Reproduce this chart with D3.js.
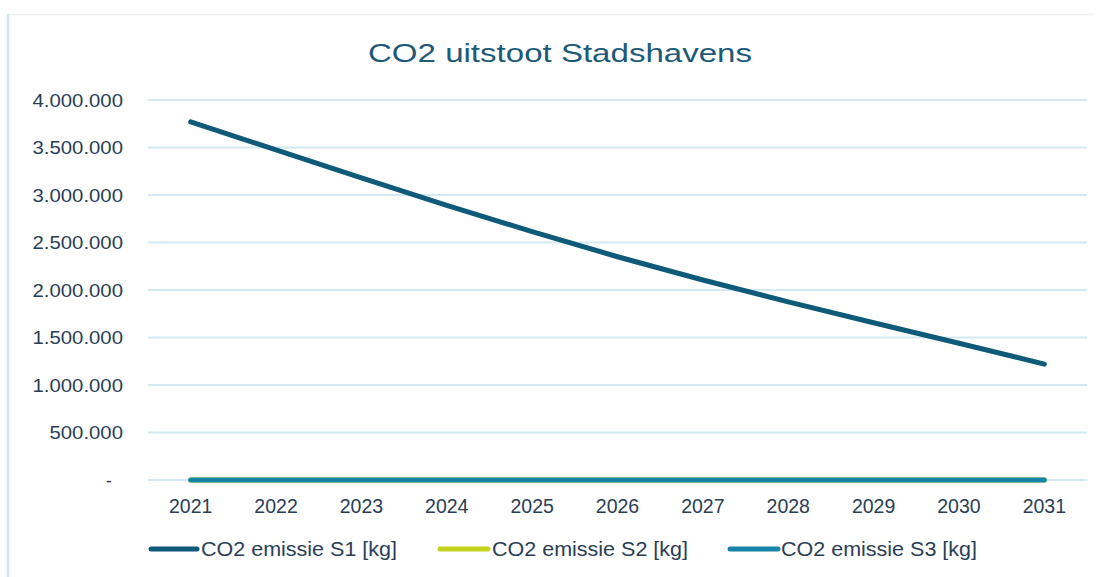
<!DOCTYPE html>
<html>
<head>
<meta charset="utf-8">
<script src="https://cdn.jsdelivr.net/npm/d3@7"></script>
<style>
  html, body { margin: 0; padding: 0; background: #ffffff; }
  svg { display: block; font-family: "Liberation Sans", Arial, sans-serif; }
</style>
</head>
<body>
<svg id="chart" width="1102" height="577"></svg>
<script>
// Years on the x axis
const years = ["2021","2022","2023","2024","2025","2026","2027","2028","2029","2030","2031"];

// CO2 emissions per scope, in kg
const s1Values = [3770000, 3475000, 3180000, 2890000, 2615000, 2350000, 2105000, 1875000, 1655000, 1440000, 1220000];
const s2Values = [0, 0, 0, 0, 0, 0, 0, 0, 0, 0, 0];
const s3Values = [0, 0, 0, 0, 0, 0, 0, 0, 0, 0, 0];

const seriesNames = ["CO2 emissie S1 [kg]", "CO2 emissie S2 [kg]", "CO2 emissie S3 [kg]"];
const seriesColors = ["#0f5a78", "#c4d21c", "#1684a6"];

// Y axis ticks
const yTicks = [0, 500000, 1000000, 1500000, 2000000, 2500000, 3000000, 3500000, 4000000];

const titleText = "CO2 uitstoot Stadshavens";

const svg = d3.select("#chart");
const W = 1102, H = 577;
const plot = { left: 148, right: 1087, top: 100, bottom: 480 };
const textColor = "#2a3e55";
const gridColor = "#d3e9f3";

// chart frame
svg.append("rect").attr("x", 0).attr("y", 0).attr("width", W).attr("height", H).attr("fill", "#ffffff");
svg.append("line").attr("x1", 8).attr("x2", 1094).attr("y1", 14.5).attr("y2", 14.5)
  .attr("stroke", "#eef0f0").attr("stroke-width", 1.5);
svg.append("line").attr("x1", 8).attr("x2", 8).attr("y1", 14).attr("y2", H)
  .attr("stroke", "#cfe7f1").attr("stroke-width", 2.5);

const x = d3.scaleBand().domain(years).range([plot.left, plot.right]).paddingInner(0).paddingOuter(0);
const xc = d => x(d) + x.bandwidth() / 2;
const y = d3.scaleLinear().domain([0, 4000000]).range([plot.bottom, plot.top]);

// title
svg.append("text")
  .attr("x", 560).attr("y", 62)
  .attr("text-anchor", "middle")
  .attr("font-size", 26)
  .attr("fill", "#1d5a79")
  .attr("textLength", 384)
  .attr("lengthAdjust", "spacingAndGlyphs")
  .text(titleText);

// gridlines
svg.append("g")
  .selectAll("line")
  .data(yTicks)
  .join("line")
  .attr("x1", plot.left).attr("x2", plot.right)
  .attr("y1", d => y(d)).attr("y2", d => y(d))
  .attr("stroke", gridColor).attr("stroke-width", 1.8);

// y axis labels
const fmt = d => d === 0 ? "-" : d3.format(",")(d).replace(/,/g, ".");
const yAxis = d3.axisLeft(y).tickValues(yTicks).tickFormat(fmt).tickSize(0).tickPadding(0);
const gy = svg.append("g").attr("transform", `translate(123,0)`).call(yAxis);
gy.select(".domain").remove();
gy.selectAll("text")
  .attr("fill", textColor)
  .attr("font-size", 18.5)
  .attr("font-family", "Liberation Sans, Arial, sans-serif")
  .attr("dy", "0.35em")
  .attr("x", d => d === 0 ? -11 : 0)
  .each(function(d) {
    if (d !== 0) {
      const w = this.getComputedTextLength();
      d3.select(this).attr("textLength", w * 1.1).attr("lengthAdjust", "spacingAndGlyphs");
    }
  });

// x axis labels
const xAxis = d3.axisBottom(x).tickSize(0).tickPadding(0);
const gx = svg.append("g").attr("transform", `translate(0,${plot.bottom})`).call(xAxis);
gx.select(".domain").remove();
gx.selectAll("text")
  .attr("fill", textColor)
  .attr("font-size", 19.5)
  .attr("font-family", "Liberation Sans, Arial, sans-serif")
  .attr("y", 33).attr("dy", 0);

// series lines
const lineGen = d3.line().x((d, i) => xc(years[i])).y(d => y(d));
const allSeries = [s1Values, s2Values, s3Values];
[1, 2, 0].forEach(k => {
  svg.append("path")
    .datum(allSeries[k])
    .attr("fill", "none")
    .attr("stroke", seriesColors[k])
    .attr("stroke-width", 5)
    .attr("stroke-linecap", "round")
    .attr("stroke-linejoin", "round")
    .attr("d", lineGen);
});

// legend
const legendItems = [
  { x1: 151, x2: 197, tx: 201 },
  { x1: 440, x2: 488, tx: 492 },
  { x1: 730, x2: 778, tx: 781 }
];
const legY = 549;
const lg = svg.append("g");
legendItems.forEach((it, i) => {
  lg.append("line").attr("x1", it.x1).attr("x2", it.x2).attr("y1", legY).attr("y2", legY)
    .attr("stroke", seriesColors[i]).attr("stroke-width", 5).attr("stroke-linecap", "round");
  lg.append("text").attr("x", it.tx).attr("y", legY).attr("dy", "0.35em")
    .attr("fill", textColor).attr("font-size", 20)
    .attr("textLength", 196).attr("lengthAdjust", "spacingAndGlyphs")
    .text(seriesNames[i]);
});
</script>
</body>
</html>
